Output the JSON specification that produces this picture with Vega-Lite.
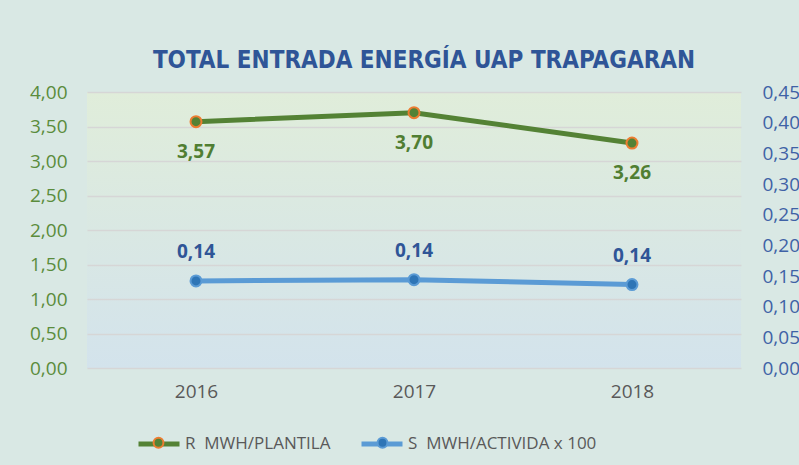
{
  "$schema": "https://vega.github.io/schema/vega-lite/v6.json",
  "width": 654,
  "height": 276,
  "autosize": {"type": "none"},
  "padding": {"left": 87, "top": 92, "right": 58, "bottom": 97},
  "background": "#d9e8e4",
  "title": {
    "text": "TOTAL ENTRADA ENERGÍA UAP TRAPAGARAN",
    "font": "DejaVu Sans Condensed",
    "fontSize": 24,
    "fontWeight": "bold",
    "color": "#2f5597",
    "anchor": "middle",
    "offset": 10,
    "dx": 10
  },
  "config": {
    "locale": {"number": {"decimal": ",", "thousands": ".", "grouping": [3], "currency": ["", " €"]}},
    "view": {
      "stroke": null,
      "fill": {
        "gradient": "linear", "x1": 0, "y1": 0, "x2": 0, "y2": 1,
        "stops": [{"offset": 0, "color": "#e0edda"}, {"offset": 1, "color": "#d3e3ec"}]
      }
    },
    "font": "Open Sans"
  },
  "data": {
    "values": [
      {"year": "2016", "series": "R\u00a0 MWH/PLANTILA", "value": 3.57},
      {"year": "2017", "series": "R\u00a0 MWH/PLANTILA", "value": 3.70},
      {"year": "2018", "series": "R\u00a0 MWH/PLANTILA", "value": 3.26},
      {"year": "2016", "series": "S\u00a0 MWH/ACTIVIDA x 100", "value": 0.142},
      {"year": "2017", "series": "S\u00a0 MWH/ACTIVIDA x 100", "value": 0.144},
      {"year": "2018", "series": "S\u00a0 MWH/ACTIVIDA x 100", "value": 0.136}
    ]
  },
  "layer": [
    {
      "transform": [{"filter": {"field": "series", "equal": "R\u00a0 MWH/PLANTILA"}}],
      "encoding": {
        "x": {
          "field": "year", "type": "ordinal", "title": null,
          "axis": {"labelAngle": 0, "domain": false, "ticks": false, "labelPadding": 14, "labelColor": "#595959", "labelFontSize": 19, "labelFont": "Open Sans"}
        },
        "y": {
          "field": "value", "type": "quantitative", "title": null,
          "scale": {"domain": [0, 4]},
          "axis": {
            "orient": "left", "values": [0, 0.5, 1, 1.5, 2, 2.5, 3, 3.5, 4], "format": ".2f",
            "grid": true, "gridColor": "#d6d6d6", "gridWidth": 1.5, "domain": false, "ticks": false,
            "labelPadding": 20, "labelColor": "#5b8c3c", "labelFontSize": 19, "labelFont": "Open Sans"
          }
        }
      },
      "layer": [
        {
          "mark": {"type": "line", "strokeWidth": 5},
          "encoding": {
            "color": {
              "field": "series", "type": "nominal",
              "scale": {"domain": ["R\u00a0 MWH/PLANTILA", "S\u00a0 MWH/ACTIVIDA x 100"], "range": ["#548235", "#5b9bd5"]},
              "legend": {
                "title": null, "orient": "none", "direction": "horizontal",
                "legendX": 49, "legendY": 329,
                "symbolType": "M-1,0H1",
                "symbolSize": 1681, "symbolStrokeWidth": 5,
                "labelFontSize": 17, "labelColor": "#595959", "labelFont": "Open Sans", "labelLimit": 400,
                "labelOffset": 3, "columnPadding": 20
              }
            }
          }
        },
        {
          "mark": {"type": "point", "filled": true, "size": 120, "strokeWidth": 2, "opacity": 1},
          "encoding": {
            "fill": {
              "field": "series", "type": "nominal",
              "scale": {"domain": ["R\u00a0 MWH/PLANTILA", "S\u00a0 MWH/ACTIVIDA x 100", "zz"], "range": ["#548235", "#2e75b6", "#000000"]},
              "legend": {
                "title": null, "orient": "none", "direction": "horizontal",
                "legendX": 50, "legendY": 329,
                "values": ["R\u00a0 MWH/PLANTILA", "S\u00a0 MWH/ACTIVIDA x 100"],
                "symbolType": "M0.24,0A0.24,0.24,0,1,1,-0.24,0A0.24,0.24,0,1,1,0.24,0Z",
                "symbolSize": 1681, "symbolStrokeWidth": 2,
                "labelExpr": "''", "labelFontSize": 17, "labelOffset": 3, "columnPadding": 178
              }
            },
            "stroke": {
              "field": "series", "type": "nominal",
              "scale": {"domain": ["R\u00a0 MWH/PLANTILA", "S\u00a0 MWH/ACTIVIDA x 100", "zz"], "range": ["#ed7d31", "#5b9bd5", "#000000"]},
              "legend": {
                "title": null, "orient": "none", "direction": "horizontal",
                "legendX": 50, "legendY": 329,
                "values": ["R\u00a0 MWH/PLANTILA", "S\u00a0 MWH/ACTIVIDA x 100"],
                "symbolType": "M0.24,0A0.24,0.24,0,1,1,-0.24,0A0.24,0.24,0,1,1,0.24,0Z",
                "symbolSize": 1681, "symbolStrokeWidth": 2,
                "labelExpr": "''", "labelFontSize": 17, "labelOffset": 3, "columnPadding": 178
              }
            }
          }
        },
        {
          "mark": {"type": "text", "dy": 30, "fontSize": 19, "fontWeight": "bold", "color": "#507e32", "font": "Open Sans"},
          "encoding": {"text": {"field": "value", "type": "quantitative", "format": ".2f"}}
        }
      ]
    },
    {
      "transform": [{"filter": {"field": "series", "equal": "S\u00a0 MWH/ACTIVIDA x 100"}}],
      "encoding": {
        "x": {"field": "year", "type": "ordinal", "title": null},
        "y": {
          "field": "value", "type": "quantitative", "title": null,
          "scale": {"domain": [0, 0.45]},
          "axis": {
            "orient": "right", "values": [0, 0.05, 0.1, 0.15, 0.2, 0.25, 0.3, 0.35, 0.4, 0.45], "format": ".2f",
            "grid": false, "domain": false, "ticks": false,
            "labelPadding": 21, "labelColor": "#3f62a6", "labelFontSize": 19, "labelFont": "Open Sans"
          }
        }
      },
      "layer": [
        {
          "mark": {"type": "line", "strokeWidth": 5},
          "encoding": {"color": {"field": "series", "type": "nominal"}}
        },
        {
          "mark": {"type": "point", "filled": true, "size": 120, "strokeWidth": 2, "opacity": 1},
          "encoding": {
            "fill": {"field": "series", "type": "nominal"},
            "stroke": {"field": "series", "type": "nominal"}
          }
        },
        {
          "mark": {"type": "text", "dy": -29, "fontSize": 19, "fontWeight": "bold", "color": "#2f5597", "font": "Open Sans"},
          "encoding": {"text": {"field": "value", "type": "quantitative", "format": ".2f"}}
        }
      ]
    }
  ],
  "resolve": {"scale": {"y": "independent"}}
}
